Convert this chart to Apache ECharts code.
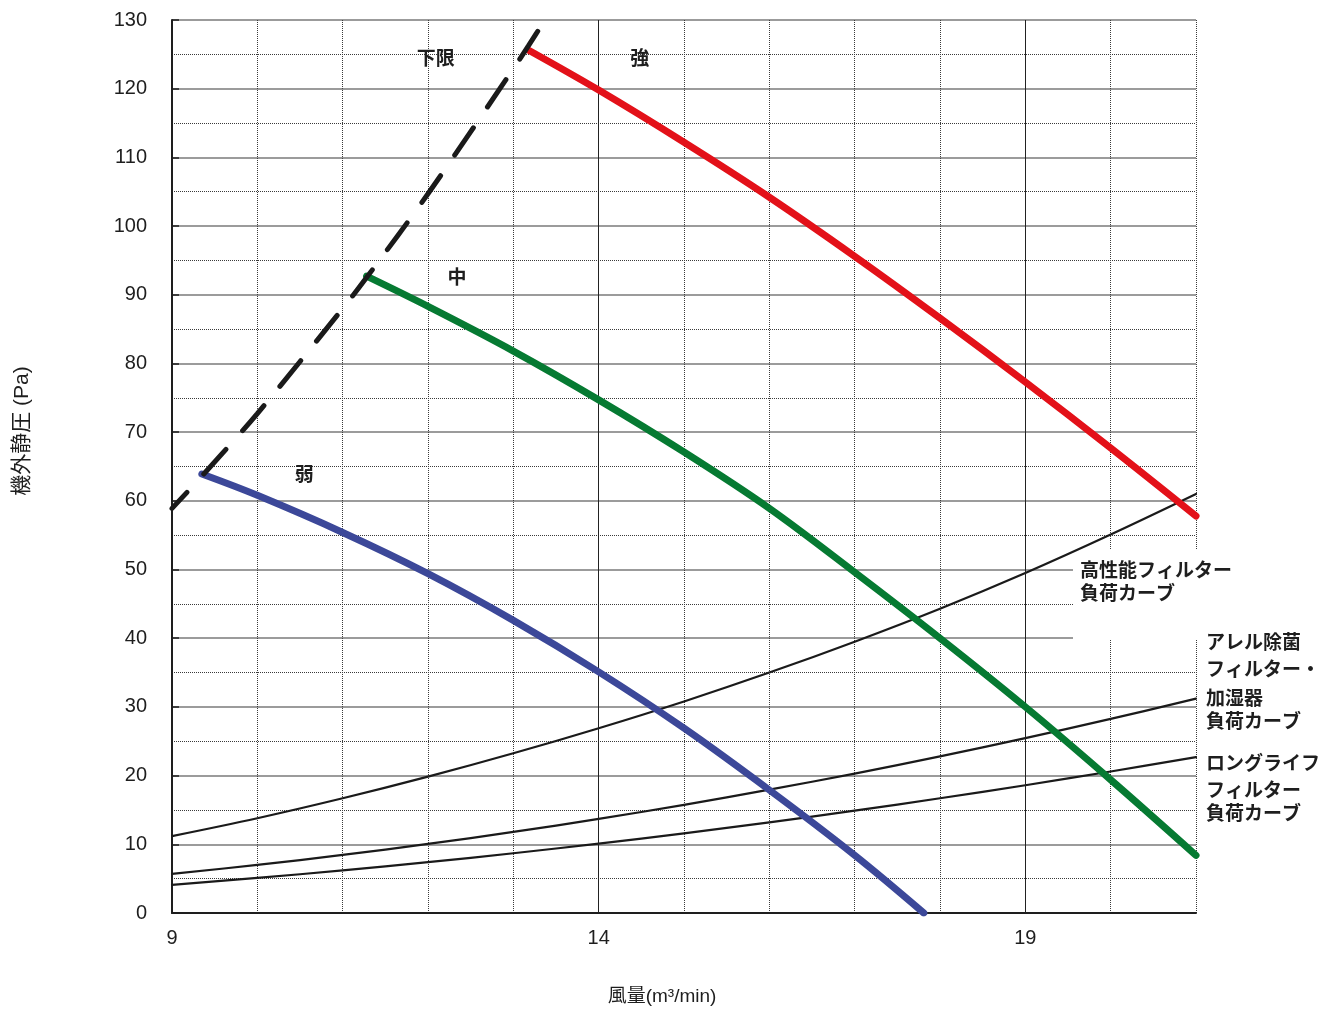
<!DOCTYPE html>
<html>
<head>
<meta charset="utf-8">
<style>
  html, body { margin: 0; height: 100%; background: #fff; overflow: hidden; }
  #main { width: 1334px; height: 1012px; }
</style>
<script src="https://cdn.jsdelivr.net/npm/echarts@6/dist/echarts.min.js"></script>
</head>
<body>
<div id="main"></div>
<script>
// 風量 (m3/min) vs 機外静圧 (Pa) -- fan curves + filter load curves
var labelTicks = [9, 14, 19];          // x values that carry a tick label
var boldGridX = [14, 19];              // solid vertical lines

// 強 / 中 / 弱 fan curves
var strongX = [13.18, 14, 15, 16, 17, 18, 19, 20, 21];
var strongY = [125.6, 119.8, 112.2, 104.2, 95.6, 86.6, 77.3, 67.7, 57.8];
var midX = [11.28, 12, 13, 14, 15, 16, 17, 18, 19, 20, 21];
var midY = [92.7, 88.3, 81.8, 74.7, 67.1, 58.9, 49.6, 40.0, 30.0, 19.4, 8.4];
var weakX = [9.35, 10, 11, 12, 13, 14, 15, 16, 17, 17.81];
var weakY = [63.9, 60.8, 55.4, 49.4, 42.6, 35.1, 26.9, 17.9, 8.4, 0];

// 下限 (dashed)
var limitX = [9, 9.35, 10, 11, 11.28, 12, 13, 13.18, 13.37];
var limitY = [58.9, 63.6, 72.7, 88.0, 92.5, 104.7, 122.9, 126.3, 130];

// filter load curves
var filterX = [9, 10, 11, 12, 13, 14, 15, 16, 17, 18, 19, 20, 21];
var hepaY = [11.2, 13.8, 16.7, 19.85, 23.25, 26.9, 30.8, 35.0, 39.5, 44.3, 49.5, 55.1, 61.0];
var allergenY = [5.7, 7.0, 8.45, 10.05, 11.8, 13.7, 15.75, 17.95, 20.3, 22.8, 25.45, 28.25, 31.2];
var longLifeY = [4.1, 5.1, 6.2, 7.4, 8.7, 10.1, 11.6, 13.2, 14.9, 16.7, 18.6, 20.6, 22.7];

// curve names written inside the plot
var tagText = ['下限', '強', '中', '弱'];
var tagX = [12.09, 14.48, 12.34, 10.55];
var tagY = [124.5, 124.5, 92.6, 63.9];

function pairs(xs, ys) {
    var out = [];
    for (var i = 0; i < xs.length; i++) out.push([xs[i], ys[i]]);
    return out;
}

var numFont = "'Liberation Sans', Arial, 'Noto Sans CJK JP', sans-serif";
var jpFont = "'Noto Sans CJK JP', 'Liberation Sans', sans-serif";
var ink = '#1e1e1e';

function txt(x, y, s, extra, rot) {
    var st = {
        text: s, fill: ink, fontSize: 19, fontWeight: 'bold', fontFamily: jpFont,
        align: 'left', verticalAlign: 'middle'
    };
    for (var k in (extra || {})) st[k] = extra[k];
    return { type: 'text', x: x, y: y, rotation: rot || 0, z: 100, silent: true, style: st };
}

var chart = echarts.init(document.getElementById('main'));

function curve(name, xs, ys, color, width, z) {
    return {
        name: name, type: 'line', smooth: 0.35, showSymbol: false, symbol: 'none', silent: true, z: z,
        data: pairs(xs, ys),
        lineStyle: { color: color, width: width, cap: 'round', join: 'round' }
    };
}

var option = {
    animation: false,
    backgroundColor: '#fff',
    grid: { left: 172, right: 138, top: 20, bottom: 99, containLabel: false, outerBoundsMode: 'none' },
    xAxis: {
        type: 'value', min: 9, max: 21, interval: 1,
        axisLine: { show: true, onZero: false, lineStyle: { color: ink, width: 2 } },
        axisTick: { show: false },
        axisLabel: {
            interval: 0, margin: 15, fontSize: 20, color: ink, fontFamily: numFont,
            formatter: function (v) { return labelTicks.indexOf(v) >= 0 ? String(v) : ''; }
        },
        splitLine: { show: true, interval: 0, lineStyle: { color: '#3a3a3a', width: 1, type: 'dotted' } }
    },
    yAxis: {
        type: 'value', min: 0, max: 130, interval: 10,
        axisLine: { show: true, onZero: false, lineStyle: { color: ink, width: 2 } },
        axisTick: { show: true, inside: true, length: 7, lineStyle: { color: ink, width: 1.5 } },
        axisLabel: { margin: 25, fontSize: 20, color: ink, fontFamily: numFont },
        splitLine: { show: true, lineStyle: { color: '#7a7a7a', width: 1.5 } },
        minorTick: { show: false, splitNumber: 2 },
        minorSplitLine: { show: true, lineStyle: { color: '#3a3a3a', width: 1, type: 'dotted' } }
    },
    graphic: [
        // white box behind the 高性能 label
        { type: 'rect', z: 1, silent: true, shape: { x: 1073, y: 550, width: 170, height: 90 }, style: { fill: '#fff' } },
        txt(1080, 570, '高性能フィルター'),
        txt(1080, 593, '負荷カーブ'),
        txt(1206, 642, 'アレル除菌'),
        txt(1206, 669, 'フィルター・'),
        txt(1206, 698, '加湿器'),
        txt(1206, 721, '負荷カーブ'),
        txt(1206, 763, 'ロングライフ'),
        txt(1206, 790, 'フィルター'),
        txt(1206, 813, '負荷カーブ'),
        // axis names
        txt(22, 431, '機外静圧 (Pa)', { fontWeight: 'normal', fontSize: 21, fontFamily: numFont, align: 'center' }, Math.PI / 2),
        txt(662, 997, '風量(m³/min)', { fontWeight: 'normal', fontSize: 19, fontFamily: numFont, align: 'center' })
    ],
    series: [
        {
            type: 'line', data: [], z: 1, silent: true,
            markLine: {
                silent: true, symbol: 'none', label: { show: false },
                lineStyle: { color: '#222', width: 1, type: 'solid' },
                data: boldGridX.map(function (v) { return { xAxis: v }; })
            }
        },
        curve('ロングライフフィルター負荷カーブ', filterX, longLifeY, '#1a1a1a', 2.2, 4),
        curve('アレル除菌フィルター・加湿器負荷カーブ', filterX, allergenY, '#1a1a1a', 2.2, 4),
        curve('高性能フィルター負荷カーブ', filterX, hepaY, '#1a1a1a', 2.2, 4),
        curve('弱', weakX, weakY, '#3C4899', 7, 5),
        curve('中', midX, midY, '#067A32', 7, 5),
        curve('強', strongX, strongY, '#E31119', 7, 5),
        {
            name: '下限', type: 'line', smooth: 0.3, showSymbol: false, symbol: 'none', silent: true, z: 6,
            data: pairs(limitX, limitY),
            lineStyle: { color: '#1a1a1a', width: 5, type: [33, 25], dashOffset: 11, cap: 'round' }
        },
        {
            type: 'scatter', symbolSize: 1, silent: true, z: 10,
            itemStyle: { opacity: 0 },
            data: tagText.map(function (t, i) { return [tagX[i], tagY[i], t]; }),
            label: {
                show: true, position: 'inside', color: ink, opacity: 1, fontSize: 19, fontWeight: 'bold',
                fontFamily: jpFont, textBorderWidth: 0,
                formatter: function (p) { return p.value[2]; }
            }
        }
    ]
};

chart.setOption(option);
</script>
</body>
</html>
